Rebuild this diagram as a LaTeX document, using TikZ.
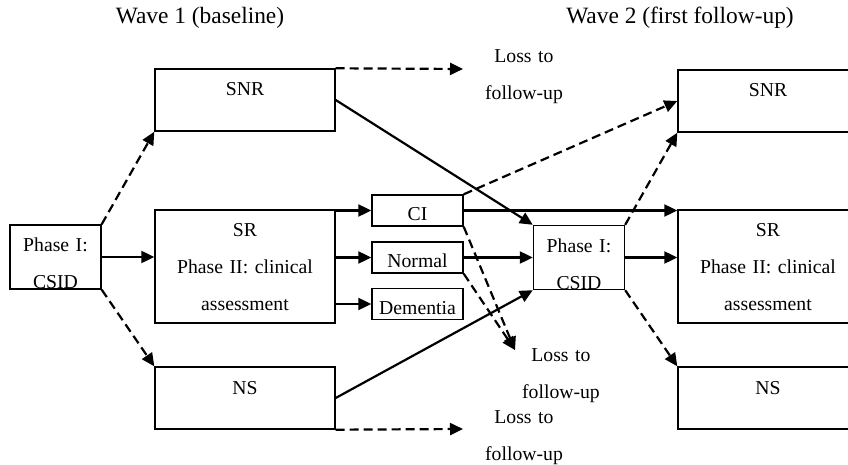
\documentclass[tikz,border=0pt]{standalone}
\usepackage{fontspec}
\setmainfont{Liberation Serif}
\usetikzlibrary{arrows.meta, positioning}
\frenchspacing

\begin{document}
\begin{tikzpicture}[
    x=0.5pt, y=-0.5pt,
    every node/.style={font=\fontsize{9.85}{18.5}\selectfont},
    box/.style={rectangle, draw=black, line width=0.7pt, inner sep=0pt, align=center},
    groupbox/.style={box, text width=90pt, text height=13.5pt, text depth=17.5pt},
    assess/.style={box, text width=90pt, text height=13.5pt, text depth=43pt},
    csid/.style={box, text width=45.5pt, text height=13.5pt, text depth=18.5pt},
    result/.style={box, text width=45.5pt, text height=13pt, text depth=2.5pt},
    wave/.style={font=\fontsize{11.7}{14}\selectfont, anchor=base, inner sep=0pt},
    loss/.style={text width=60pt, align=center, inner sep=0pt, anchor=base},
    arrow/.style={-{Triangle[length=6.5pt, width=6pt]}, line width=1.1pt},
    darrow/.style={arrow, dash pattern=on 4.5pt off 2.5pt}
]
\useasboundingbox (0,0) rectangle (848,465);

\node[wave] (wave1) at (200,24) {Wave 1 (baseline)};
\node[wave] (wave2) at (680,24) {Wave 2 (first follow-up)};

\node[csid] (csidA) at (55.5,257) {Phase I:\\CSID};
\node[groupbox] (snrA) at (245,100) {SNR};
\node[assess] (srA) at (245,266.5) {SR\\Phase II: clinical\\assessment};
\node[groupbox] (nsA) at (245,398) {NS};

\node[result] (ci) at (417.5,210.5) {CI};
\node[result] (normal) at (417.5,257.5) {Normal};
\node[result] (dementia) at (417.5,304) {Dementia};

\node[csid] (csidB) at (579,257.5) {Phase I:\\CSID};
\node[groupbox] (snrB) at (768,101) {SNR};
\node[assess] (srB) at (768,266.5) {SR\\Phase II: clinical\\assessment};
\node[groupbox] (nsB) at (768,398) {NS};

\node[loss] (lossA) at (524,63) {Loss to\\follow-up};
\node[loss] (lossB) at (561,362) {Loss to\\follow-up};
\node[loss] (lossC) at (524,423) {Loss to\\follow-up};

\coordinate (endA) at (463,69);
\coordinate (endB) at (515,350);
\coordinate (endC) at (463,429);

\draw[darrow] (csidA.north east) -- (snrA.south west);
\draw[arrow] (csidA.east) -- (csidA.east -| srA.west);
\draw[darrow] (csidA.south east) -- (nsA.north west);

\draw[darrow] (snrA.north east) -- (endA);
\draw[arrow] (snrA.east) -- (csidB.north west);
\draw[arrow] (ci.west -| srA.east) -- (ci.west);
\draw[arrow] (normal.west -| srA.east) -- (normal.west);
\draw[arrow] (dementia.west -| srA.east) -- (dementia.west);
\draw[arrow] (nsA.east) -- (csidB.south west);
\draw[darrow] (nsA.south east) -- (endC);

\draw[darrow] (ci.north east) -- (snrB.west);
\draw[arrow] (ci.east) -- (ci.east -| srB.west);
\draw[darrow] (ci.south east) -- (endB);
\draw[arrow] (normal.east) -- (csidB.west);
\draw[darrow] (normal.south east) -- (endB);

\draw[darrow] (csidB.north east) -- (snrB.south west);
\draw[arrow] (csidB.east) -- (csidB.east -| srB.west);
\draw[darrow] (csidB.south east) -- (nsB.north west);

\end{tikzpicture}
\end{document}
